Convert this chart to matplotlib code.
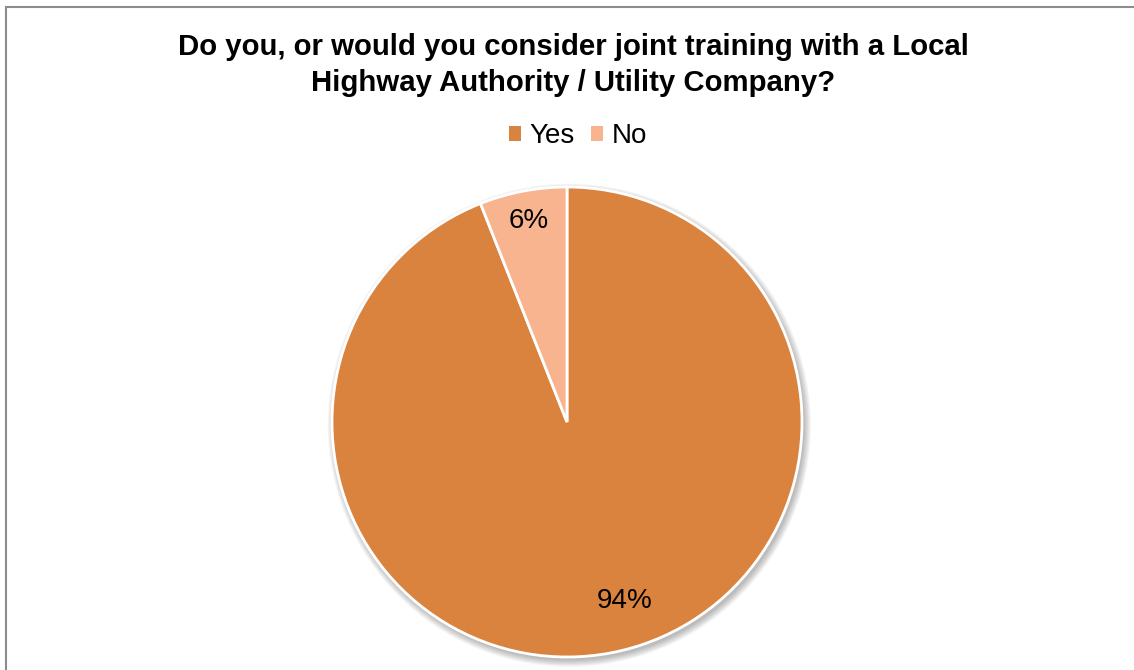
import matplotlib
matplotlib.use("Agg")
import matplotlib.pyplot as plt
from matplotlib.patches import Rectangle, Circle, Patch
import numpy as np

categories = ["Yes", "No"]
shares = [94, 6]
colors = ["#DA833F", "#F8B48E"]
title = "Do you, or would you consider joint training with a Local\nHighway Authority / Utility Company?"

plt.rcParams["font.family"] = ["Liberation Sans", "DejaVu Sans"]

W, H = 1134, 670
fig = plt.figure(figsize=(W / 100, H / 100), dpi=100)
fig.patch.set_facecolor("white")

# chart-area frame
fig.add_artist(Rectangle((5.5 / W, -0.1), 1.2, 1 - 6.5 / H + 0.1,
                         transform=fig.transFigure, fill=False,
                         edgecolor="#8c8c8c", linewidth=1.5))

cx, cy, r = 567, 422, 235
ax = fig.add_axes([(cx - r) / W, (H - cy - r) / H, 2 * r / W, 2 * r / H])
ax.axis("off")

# soft drop shadow under the pie
for k in range(8):
    ax.add_patch(Circle((0.010, -0.014), 1.0 + 0.004 * k, facecolor="#000000",
                        alpha=0.035, edgecolor="none", zorder=0, clip_on=False))

wedges, texts, autotexts = ax.pie(
    shares, colors=colors, startangle=90, counterclock=False, radius=1,
    autopct=lambda p: f"{p:.0f}%", pctdistance=0.87,
    wedgeprops=dict(edgecolor="white", linewidth=2),
    textprops=dict(fontsize=20, color="black"))
for w in wedges:
    w.set_zorder(2)
ax.set_xlim(-1, 1)
ax.set_ylim(-1, 1)
ax.set_aspect("equal")

# place the large-slice label lower-right, as the chart does
lab_pos = [(0.80, -72.0), (0.87, None)]
for w, t, (dist, ang) in zip(wedges, autotexts, lab_pos):
    mid = (w.theta1 + w.theta2) / 2 if ang is None else ang
    t.set_position((dist * np.cos(np.radians(mid)), dist * np.sin(np.radians(mid))))
    t.set_zorder(3)

fig.text(573 / W, 1 - 65 / H, title, ha="center", va="center", fontsize=21.2,
         fontweight="bold", linespacing=1.32)

handles = [Patch(facecolor=c, edgecolor="none") for c in colors]
fig.legend(handles, categories, loc="center", bbox_to_anchor=(578 / W, 1 - 136 / H),
           ncol=2, frameon=False, fontsize=20, handlelength=0.45, handleheight=0.45,
           handletextpad=0.3, columnspacing=0.58)

fig.savefig("out.png", dpi=100, facecolor="white")
